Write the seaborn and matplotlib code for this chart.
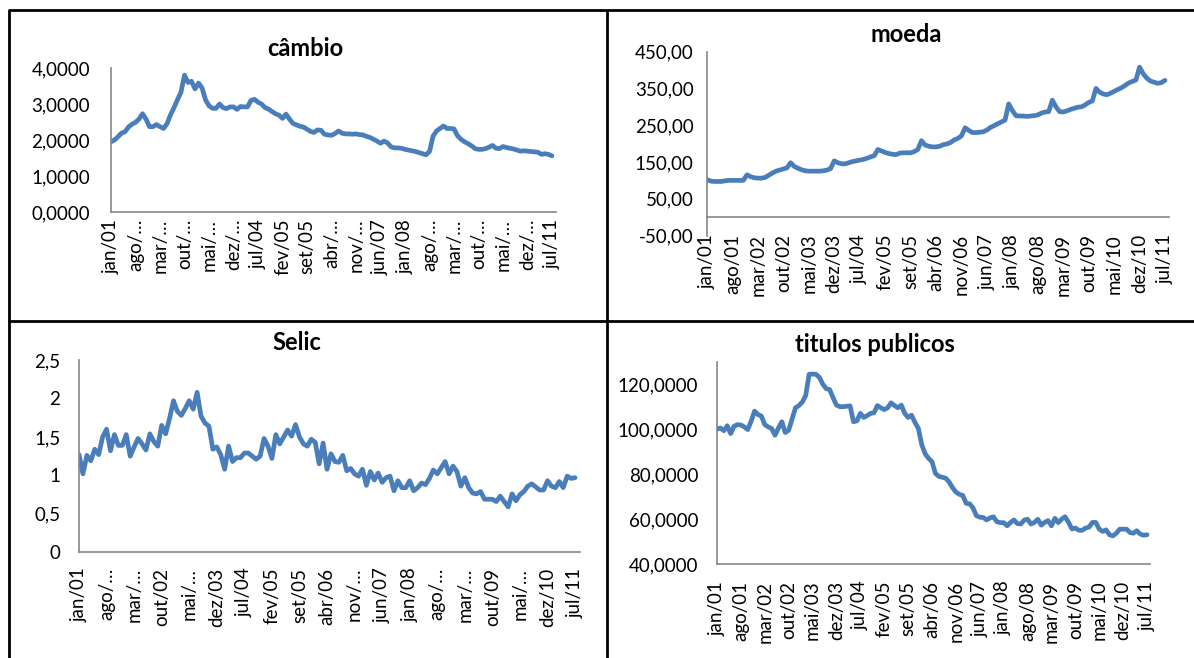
import matplotlib
matplotlib.use("Agg")
import matplotlib.pyplot as plt
from matplotlib.lines import Line2D
import seaborn as sns
import pandas as pd
import numpy as np

# ---------------- data ----------------
cambio = [1.95, 2.00, 2.09, 2.19, 2.23, 2.36, 2.44, 2.49, 2.58, 2.73, 2.58, 2.37,
          2.37, 2.43, 2.37, 2.32, 2.45, 2.70, 2.90, 3.12, 3.33, 3.80, 3.60, 3.63,
          3.42, 3.58, 3.45, 3.12, 2.95, 2.88, 2.88, 3.00, 2.90, 2.87, 2.92, 2.92,
          2.85, 2.93, 2.92, 2.92, 3.10, 3.13, 3.05, 3.00, 2.90, 2.86, 2.79, 2.73,
          2.69, 2.60, 2.72, 2.58, 2.46, 2.42, 2.38, 2.36, 2.30, 2.24, 2.21, 2.28,
          2.27, 2.16, 2.14, 2.13, 2.18, 2.25, 2.19, 2.17, 2.17, 2.16, 2.17, 2.15,
          2.14, 2.10, 2.07, 2.02, 1.97, 1.91, 1.97, 1.92, 1.81, 1.78, 1.78, 1.77,
          1.74, 1.72, 1.70, 1.68, 1.65, 1.62, 1.59, 1.68, 2.10, 2.25, 2.32, 2.39,
          2.32, 2.32, 2.31, 2.12, 2.02, 1.95, 1.90, 1.84, 1.76, 1.74, 1.74, 1.76,
          1.80, 1.85, 1.77, 1.76, 1.82, 1.79, 1.77, 1.75, 1.72, 1.69, 1.70, 1.69,
          1.68, 1.67, 1.66, 1.60, 1.62, 1.60, 1.56]

moeda = [102, 98, 97, 97, 97, 99, 100, 100, 100, 100, 100, 115,
         110, 107, 106, 106, 108, 114, 120, 125, 128, 131, 134, 148,
         138, 133, 129, 126, 125, 125, 125, 125, 126, 128, 132, 153,
         148, 145, 145, 148, 151, 153, 155, 157, 160, 164, 167, 184,
         180, 176, 173, 171, 170, 174, 175, 175, 175, 178, 184, 208,
         196, 193, 191, 191, 193, 197, 199, 203, 210, 214, 221, 243,
         236, 230, 230, 231, 232, 237, 244, 249, 254, 259, 264, 308,
         290, 276, 275, 275, 274, 275, 276, 278, 283, 286, 287, 318,
         300, 287, 286, 289, 293, 296, 299, 300, 305, 312, 316, 350,
         340, 335, 333, 337, 342, 347, 352, 358, 365, 369, 373, 408,
         390, 378, 370, 367, 364, 366, 372]

selic = [1.27, 1.02, 1.26, 1.19, 1.34, 1.27, 1.50, 1.60, 1.32, 1.53, 1.39, 1.39,
         1.53, 1.25, 1.37, 1.48, 1.41, 1.33, 1.54, 1.44, 1.38, 1.65, 1.54, 1.74,
         1.97, 1.83, 1.78, 1.87, 1.97, 1.86, 2.08, 1.77, 1.68, 1.64, 1.34, 1.37,
         1.27, 1.08, 1.38, 1.18, 1.23, 1.23, 1.29, 1.29, 1.25, 1.21, 1.25, 1.48,
         1.38, 1.22, 1.53, 1.41, 1.50, 1.59, 1.51, 1.66, 1.50, 1.41, 1.38, 1.47,
         1.43, 1.15, 1.42, 1.08, 1.28, 1.18, 1.17, 1.26, 1.06, 1.09, 1.02, 0.99,
         1.08, 0.87, 1.05, 0.94, 1.03, 0.91, 0.97, 0.99, 0.80, 0.93, 0.84, 0.84,
         0.93, 0.80, 0.84, 0.90, 0.88, 0.96, 1.07, 1.02, 1.10, 1.18, 1.02, 1.12,
         1.05, 0.86, 0.97, 0.84, 0.77, 0.76, 0.79, 0.69, 0.69, 0.69, 0.66, 0.73,
         0.66, 0.59, 0.76, 0.67, 0.75, 0.79, 0.86, 0.89, 0.85, 0.81, 0.81, 0.93,
         0.86, 0.84, 0.92, 0.84, 0.99, 0.96, 0.97]

titulos = [100, 100.5, 99.3, 101.5, 98, 101.3, 102, 101.8, 101, 99.8, 103.5, 108,
           106.5, 105.8, 102, 101, 100.3, 97.3, 100.5, 103.3, 98.5, 99.5, 104.5, 109.5,
           110.5, 112, 115, 124.4, 124.5, 124.4, 123, 120, 118, 117.6, 114, 110.7,
           110, 110, 110.2, 110.3, 103.3, 103.7, 107, 105.2, 106, 107, 107.3, 110.5,
           109.5, 108.7, 109.5, 111.7, 110.5, 109.5, 110.7, 107, 105.2, 106.2, 103, 100.3,
           93, 89, 87, 85.5, 80.3, 79, 78.6, 78.2, 76.5, 74, 72, 71,
           70.5, 67, 66.8, 65, 61.5, 60.8, 60.7, 59.6, 60.5, 61, 58.8, 58.4,
           58.4, 57, 58.5, 59.6, 58, 57.8, 59.5, 59.9, 57.8, 58.5, 59.9, 57.3,
           58.5, 59.3, 57, 60.3, 58.4, 60, 61, 58.5, 55.6, 56, 55, 55,
           56, 56.4, 58.5, 58.5, 55.5, 54.5, 55.2, 53, 52.5, 53.7, 55.5, 55.5,
           55.5, 54, 53.7, 54.8, 53.3, 52.8, 53]

labels_cambio = ["jan/01", "ago/\u2026", "mar/\u2026", "out/\u2026", "mai/\u2026", "dez/\u2026",
                 "jul/04", "fev/05", "set/05", "abr/\u2026", "nov/\u2026", "jun/07", "jan/08",
                 "ago/\u2026", "mar/\u2026", "out/\u2026", "mai/\u2026", "dez/\u2026", "jul/11"]
labels_full = ["jan/01", "ago/01", "mar/02", "out/02", "mai/03", "dez/03", "jul/04",
               "fev/05", "set/05", "abr/06", "nov/06", "jun/07", "jan/08", "ago/08",
               "mar/09", "out/09", "mai/10", "dez/10", "jul/11"]
labels_selic = ["jan/01", "ago/\u2026", "mar/\u2026", "out/02", "mai/\u2026", "dez/03",
                "jul/04", "fev/05", "set/05", "abr/06", "nov/\u2026", "jun/07", "jan/08",
                "ago/\u2026", "mar/\u2026", "out/09", "mai/\u2026", "dez/10", "jul/11"]

ticks_cambio = ["0,0000", "1,0000", "2,0000", "3,0000", "4,0000"]
ticks_moeda = ["-50,00", "50,00", "150,00", "250,00", "350,00", "450,00"]
ticks_selic = ["0", "0,5", "1", "1,5", "2", "2,5"]
ticks_titulos = ["40,0000", "60,0000", "80,0000", "100,0000", "120,0000"]

titles = ["câmbio", "moeda", "Selic", "titulos publicos"]

# ---------------- style ----------------
sns.set_theme(style="white")
plt.rcParams["font.family"] = ["Lato", "DejaVu Sans"]

W, H = 1194, 658
fig = plt.figure(figsize=(W / 100, H / 100), dpi=100)
fig.patch.set_facecolor("white")

LINE = "#4A7EBB"
GRAY = "#868686"
TICK = "#6E6E6E"
FS = 13.5
N = len(cambio)
month_idx = np.arange(N)


def add_panel(x0, px_per, xmax, ytop, ybot, ylim, yticks, yticklabels, series,
              xlabels, xticks_on, ypad, xpad, bottom_at=None):
    left = x0 / W
    width = xmax * px_per / W
    bottom = 1 - ybot / H
    height = (ybot - ytop) / H
    ax = fig.add_axes([left, bottom, width, height])
    df = pd.DataFrame({"m": month_idx, "v": series})
    sns.lineplot(data=df, x="m", y="v", ax=ax, color=LINE, linewidth=3.4,
                 solid_joinstyle="round", solid_capstyle="round")
    ax.set_xlim(0, xmax)
    ax.set_ylim(*ylim)
    ax.set_xlabel("")
    ax.set_ylabel("")
    ax.set_facecolor("none")
    for s in ["top", "right"]:
        ax.spines[s].set_visible(False)
    for s in ["left", "bottom"]:
        ax.spines[s].set_color(GRAY)
        ax.spines[s].set_linewidth(1.2)
    if bottom_at is not None:
        ax.spines["bottom"].set_position(("data", bottom_at))
    ax.set_yticks(yticks)
    ax.set_yticklabels(yticklabels)
    if xticks_on:
        ax.set_xticks(month_idx)
        ax.set_xticklabels([xlabels[i // 7] if i % 7 == 0 else "" for i in month_idx],
                           rotation=90)
        ax.tick_params(axis="x", length=4.5, width=0.9, color=TICK, direction="out",
                       pad=xpad - 0.5, labelsize=FS, labelcolor="black")
        ax.tick_params(axis="y", length=4.5, width=1.0, color=GRAY, direction="out",
                       pad=ypad, labelsize=FS, labelcolor="black")
    else:
        ax.set_xticks(month_idx[::7])
        ax.set_xticklabels(xlabels, rotation=90)
        ax.tick_params(axis="x", length=0, pad=xpad, labelsize=FS, labelcolor="black")
        ax.tick_params(axis="y", length=0, pad=ypad, labelsize=FS, labelcolor="black")
    ax.grid(False)
    return ax


add_panel(111, 3.5, 127.1, 68, 212, (0, 4), [0, 1, 2, 3, 4], ticks_cambio, cambio,
          labels_cambio, False, 15, 5)
add_panel(707, 3.635, 127.1, 51.7, 235.5, (-50, 450), [-50, 50, 150, 250, 350, 450],
          ticks_moeda, moeda, labels_full, True, 5, 8, bottom_at=0)
add_panel(79, 3.937, 127.2, 360, 552.3, (0, 2.5), [0, 0.5, 1, 1.5, 2, 2.5],
          ticks_selic, selic, labels_selic, True, 9, 7)
add_panel(717, 3.413, 126.9, 361.7, 564, (40, 130), [40, 60, 80, 100, 120],
          ticks_titulos, titulos, labels_full, True, 9, 8)

# titles
title_pos = [(305, 49), (906, 35), (297, 343), (875, 345)]
for t, (tx, ty) in zip(titles, title_pos):
    fig.text(tx / W, 1 - ty / H, t, ha="center", va="center", fontsize=17,
             fontweight="bold", color="black")

# table borders
def fline(x1, y1, x2, y2, lw=2.0):
    fig.add_artist(Line2D([x1 / W, x2 / W], [1 - y1 / H, 1 - y2 / H],
                          transform=fig.transFigure, color="black", linewidth=lw,
                          solid_capstyle="butt"))

fline(8, 10, 1194, 10)
fline(9, 10, 9, 658)
fline(607, 10, 607, 658)
fline(8, 321, 1194, 321)

fig.savefig("out.png", dpi=100)
